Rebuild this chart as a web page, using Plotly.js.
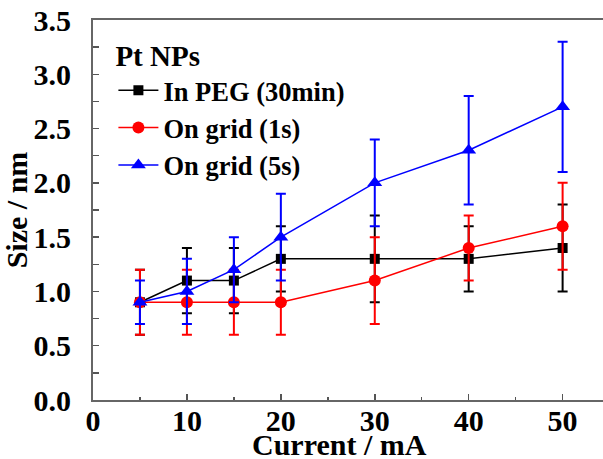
<!DOCTYPE html>
<html><head><meta charset="utf-8">
<script src="https://cdn.plot.ly/plotly-3.0.1.min.js"></script>
<style>html,body{margin:0;padding:0;background:#fff}#plot{width:603px;height:459px}</style>
</head><body><div id="plot"></div>
<script>
const current = [5, 10, 15, 20, 30, 40, 50];
const pegSize = [0.9, 1.1, 1.1, 1.3, 1.3, 1.3, 1.4];
const pegErr  = [0.3, 0.3, 0.3, 0.3, 0.4, 0.3, 0.4];
const grid1Size = [0.9, 0.9, 0.9, 0.9, 1.1, 1.4, 1.6];
const grid1Err  = [0.3, 0.3, 0.3, 0.3, 0.4, 0.3, 0.4];
const grid5Size = [0.9, 1.0, 1.2, 1.5, 2.0, 2.3, 2.7];
const grid5Err  = [0.2, 0.3, 0.3, 0.4, 0.4, 0.5, 0.6];
const seriesNames = ["In PEG (30min)", "On grid (1s)", "On grid (5s)"];
const xTicks = [0, 10, 20, 30, 40, 50];
const yTicks = [0.0, 0.5, 1.0, 1.5, 2.0, 2.5, 3.0, 3.5];

const FONT = "Liberation Serif, Times New Roman, serif";
function tr(name, y, e, color, symbol, size) {
  return {
    x: current, y: y, name: name, type: 'scatter', mode: 'lines+markers',
    line: {color: color, width: 1.5},
    marker: {color: color, symbol: symbol, size: size},
    error_y: {type: 'data', array: e, visible: true, color: color, thickness: 2, width: 5}
  };
}
const data = [
  tr(seriesNames[0], pegSize, pegErr, '#000000', 'square', 10),
  tr(seriesNames[1], grid1Size, grid1Err, '#ff0000', 'circle', 12),
  tr(seriesNames[2], grid5Size, grid5Err, '#0000ff', 'triangle-up', 13)
];
const layout = {
  width: 603, height: 459,
  margin: {l: 93, r: 0, t: 20, b: 59},
  paper_bgcolor: '#fff', plot_bgcolor: '#fff',
  font: {family: FONT, color: '#000', size: 30, weight: 'bold'},
  showlegend: true,
  legend: {
    x: 0.04, y: 0.977, xanchor: 'left', yanchor: 'top',
    bgcolor: 'rgba(0,0,0,0)', borderwidth: 0,
    font: {family: FONT, size: 26.5, weight: 'bold', color: '#000'},
    title: {text: 'Pt NPs', font: {family: FONT, size: 29, weight: 'bold', color: '#000'}},
    itemwidth: 40, tracegroupgap: 0
  },
  xaxis: {
    range: [0, 54.3], tickmode: 'array', tickvals: xTicks,
    ticks: 'inside', ticklen: 6, tickwidth: 1.5, tickcolor: '#555',
    minor: {dtick: 5, ticks: 'inside', ticklen: 3, tickwidth: 1.5, tickcolor: '#555'},
    showline: true, linecolor: '#666', linewidth: 2, mirror: true,
    showgrid: false, zeroline: false,
    tickfont: {family: FONT, size: 30, weight: 'bold'},
    ticklabelstandoff: -7
  },
  yaxis: {
    range: [0, 3.5], tickmode: 'array', tickvals: yTicks, ticktext: yTicks.map(v => v.toFixed(1)),
    ticks: 'inside', ticklen: 6, tickwidth: 1.5, tickcolor: '#555',
    minor: {dtick: 0.25, ticks: 'inside', ticklen: 6, tickwidth: 1.5, tickcolor: '#555'},
    showline: true, linecolor: '#666', linewidth: 2, mirror: false,
    showgrid: false, zeroline: false,
    tickfont: {family: FONT, size: 30, weight: 'bold'},
    ticklabelstandoff: 14,
    title: {text: 'Size / nm', font: {family: FONT, size: 30, weight: 'bold'}, standoff: 2}
  },
  annotations: [{
    text: 'Current / mA', xref: 'paper', yref: 'paper', x: 0.484, y: -0.118,
    xanchor: 'center', yanchor: 'middle', showarrow: false,
    font: {family: FONT, size: 30, weight: 'bold', color: '#000'}
  }]
};
Plotly.newPlot('plot', data, layout, {displayModeBar: false, staticPlot: true});
</script></body></html>
